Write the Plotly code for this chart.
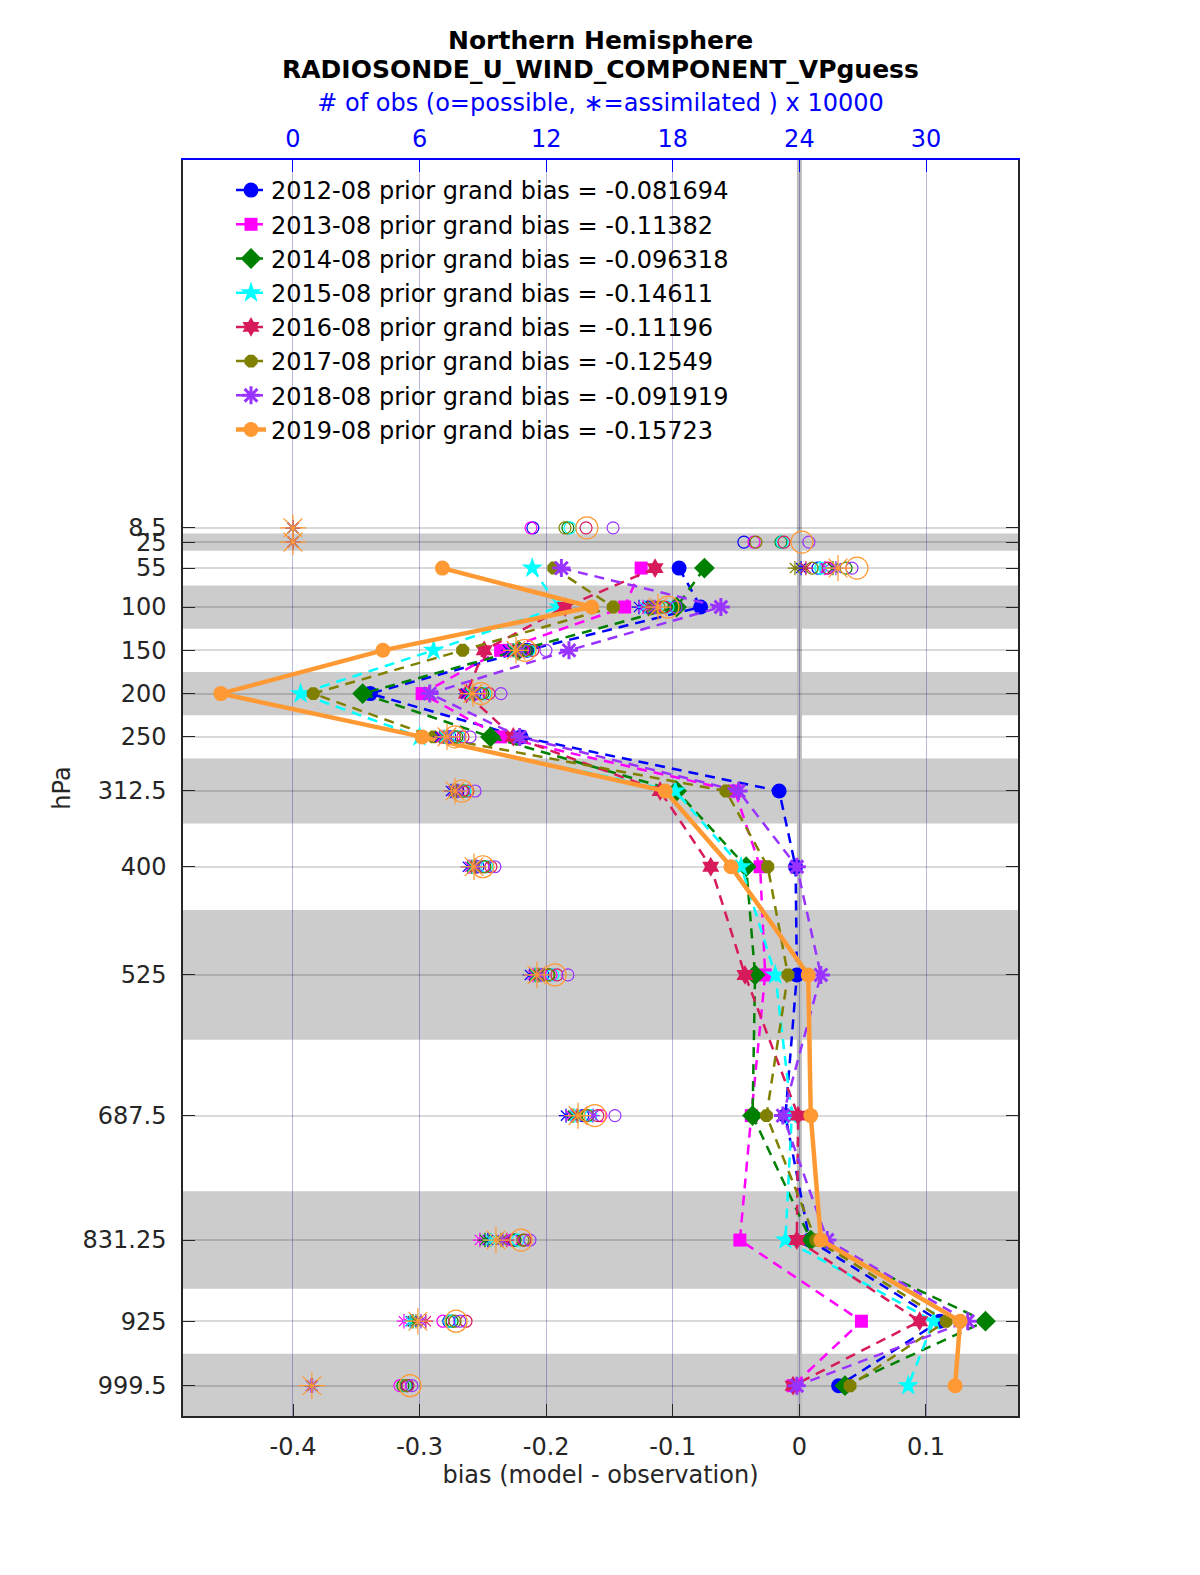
import plotly.graph_objects as go

# ---------------- data ----------------
levels = [8.5, 25, 55, 100, 150, 200, 250, 312.5, 400, 525, 687.5, 831.25, 925, 999.5]
level_labels = ['8.5', '25', '55', '100', '150', '200', '250', '312.5', '400', '525',
                '687.5', '831.25', '925', '999.5']
layer_edges = [2, 15, 35, 75, 125, 175, 225, 275, 350, 450, 600, 775, 887.5, 962.5, 1036.5]

bias_ticks = [-0.4, -0.3, -0.2, -0.1, 0, 0.1]
bias_tick_labels = ['-0.4', '-0.3', '-0.2', '-0.1', '0', '0.1']
count_ticks = [0, 6, 12, 18, 24, 30]
count_tick_labels = ['0', '6', '12', '18', '24', '30']

months = ['2012-08', '2013-08', '2014-08', '2015-08', '2016-08', '2017-08', '2018-08', '2019-08']
grand_bias = ['-0.081694', '-0.11382', '-0.096318', '-0.14611', '-0.11196', '-0.12549',
              '-0.091919', '-0.15723']

# bias (model - observation) per level
bias_2012 = [None, None, -0.095, -0.078, -0.215, -0.339, -0.220, -0.016, -0.003, -0.002, -0.011, 0.008, 0.111, 0.031]
bias_2013 = [None, None, -0.125, -0.138, -0.236, -0.298, -0.236, -0.051, -0.031, -0.027, -0.038, -0.047, 0.049, -0.005]
bias_2014 = [None, None, -0.075, -0.097, -0.222, -0.345, -0.244, -0.097, -0.042, -0.035, -0.037, 0.009, 0.147, 0.036]
bias_2015 = [None, None, -0.211, -0.190, -0.289, -0.394, -0.300, -0.098, -0.046, -0.019, -0.006, -0.011, 0.106, 0.086]
bias_2016 = [None, None, -0.114, -0.185, -0.249, -0.263, -0.226, -0.110, -0.070, -0.043, -0.001, -0.002, 0.095, -0.005]
bias_2017 = [None, None, -0.194, -0.147, -0.266, -0.384, -0.289, -0.058, -0.025, -0.009, -0.026, 0.013, 0.116, 0.040]
bias_2018 = [None, None, -0.188, -0.062, -0.182, -0.292, -0.221, -0.048, -0.002, 0.017, -0.013, 0.022, 0.133, -0.002]
bias_2019 = [None, None, -0.282, -0.164, -0.329, -0.457, -0.298, -0.106, -0.054, 0.007, 0.009, 0.017, 0.127, 0.123]

# number of observations possible (x 10000)
poss_2012 = [11.37, 21.37, 24.88, 16.82, 10.66, 8.63, 7.44, 7.82, 8.77, 11.85, 13.74, 10.47, 7.39, 5.40]
poss_2013 = [11.28, 21.85, 25.25, 17.16, 10.90, 8.82, 7.63, 8.01, 9.00, 12.23, 14.60, 10.38, 7.11, 5.07]
poss_2014 = [13.03, 23.13, 26.21, 17.54, 11.09, 9.00, 7.77, 8.10, 9.10, 12.13, 13.98, 10.52, 7.54, 5.21]
poss_2015 = [13.13, 23.18, 25.02, 17.77, 11.18, 9.10, 7.87, 8.15, 9.19, 12.32, 14.12, 10.66, 7.44, 5.31]
poss_2016 = [13.89, 23.27, 25.36, 17.63, 11.37, 9.29, 8.06, 8.29, 9.38, 12.51, 14.45, 10.99, 8.20, 5.45]
poss_2017 = [12.89, 21.94, 24.60, 17.35, 11.00, 8.91, 7.68, 8.06, 9.05, 12.09, 13.93, 10.90, 7.68, 5.36]
poss_2018 = [15.17, 24.45, 26.49, 18.15, 11.99, 9.86, 8.39, 8.63, 9.57, 13.03, 15.26, 11.23, 7.91, 5.64]
poss_2019 = [13.93, 24.12, 26.73, 17.77, 11.00, 8.91, 7.68, 8.01, 9.00, 12.42, 14.31, 10.81, 7.73, 5.55]

# number of observations assimilated (x 10000)
assim_2012 = [0, 0, 24.08, 16.40, 10.19, 8.20, 6.97, 7.49, 8.29, 11.23, 12.94, 9.24, 5.59, 0.90]
assim_2013 = [0, 0, 25.21, 16.59, 10.33, 8.29, 7.06, 7.58, 8.39, 11.37, 13.18, 8.86, 5.26, 0.85]
assim_2014 = [0, 0, 25.59, 16.97, 10.43, 8.39, 7.16, 7.63, 8.48, 11.47, 13.27, 9.10, 5.69, 0.90]
assim_2015 = [0, 0, 24.98, 16.68, 10.52, 8.44, 7.20, 7.68, 8.53, 11.52, 13.36, 9.38, 5.55, 0.88]
assim_2016 = [0, 0, 24.31, 16.82, 10.62, 8.53, 7.30, 7.73, 8.63, 11.61, 13.46, 10.14, 6.30, 0.92]
assim_2017 = [0, 0, 23.79, 17.06, 10.71, 8.58, 7.35, 7.77, 8.67, 11.66, 13.51, 9.86, 5.83, 0.90]
assim_2018 = [0, 0, 25.73, 17.16, 10.81, 8.67, 7.39, 7.82, 8.72, 11.75, 14.22, 9.95, 6.07, 0.93]
assim_2019 = [0, 0, 25.83, 17.30, 10.57, 8.53, 7.30, 7.68, 8.58, 11.56, 13.51, 9.62, 5.92, 0.90]

# ---------------- styling ----------------
bias_all = [bias_2012, bias_2013, bias_2014, bias_2015, bias_2016, bias_2017, bias_2018, bias_2019]
poss_all = [poss_2012, poss_2013, poss_2014, poss_2015, poss_2016, poss_2017, poss_2018, poss_2019]
assim_all = [assim_2012, assim_2013, assim_2014, assim_2015, assim_2016, assim_2017, assim_2018, assim_2019]

colors = ['#0000ff', '#ff00ff', '#008000', '#00ffff', '#d71a5b', '#808000', '#9933ff', '#ff9933']
symbols = ['circle', 'square', 'diamond', 'star', 'hexagram', 'octagon', 'asterisk-open', 'circle']
msizes = [15, 13, 16, 16, 15, 14, 15, 15]

FONT = 'DejaVu Sans'
TXT = '#262626'

W, H = 1200, 1575
ML, MR, MT, MB = 175, 190, 152, 167
PH = H - MT - MB

fig = go.Figure()

for i in range(8):
    last = (i == 7)
    fig.add_trace(go.Scatter(
        x=bias_all[i], y=levels, xaxis='x', yaxis='y',
        mode='lines+markers',
        name=f'{months[i]} prior grand bias = {grand_bias[i]}',
        line=dict(color=colors[i], width=4.5 if last else 2.5, dash='solid' if last else '10px,7px'),
        marker=dict(symbol=symbols[i], size=msizes[i], color=colors[i],
                    line=dict(color=colors[i], width=3 if symbols[i] == 'asterisk-open' else 0)),
        connectgaps=False,
    ))

for i in range(8):
    last = (i == 7)
    fig.add_trace(go.Scatter(
        x=poss_all[i], y=levels, xaxis='x2', yaxis='y', mode='markers', showlegend=False,
        marker=dict(symbol='circle-open', size=22 if last else 12, color=colors[i],
                    line=dict(color=colors[i], width=1.2)),
    ))
    fig.add_trace(go.Scatter(
        x=assim_all[i], y=levels, xaxis='x2', yaxis='y', mode='markers', showlegend=False,
        marker=dict(symbol='asterisk-open', size=22 if last else 12, color=colors[i],
                    line=dict(color=colors[i], width=1.2)),
    ))

shapes = []
for k in range(1, len(layer_edges) - 1, 2):
    shapes.append(dict(type='rect', xref='paper', x0=0, x1=1, yref='y',
                       y0=layer_edges[k], y1=layer_edges[k + 1],
                       fillcolor='#cccccc', line=dict(width=0), layer='below'))
shapes.append(dict(type='line', xref='x', x0=0, x1=0, yref='paper', y0=0, y1=1,
                   line=dict(color='#bdbdbd', width=5), layer='below'))

fig.update_layout(
    width=W, height=H,
    margin=dict(l=ML, r=MR, t=MT, b=MB, autoexpand=False),
    paper_bgcolor='white', plot_bgcolor='white',
    font=dict(family=FONT, size=24, color=TXT),
    shapes=shapes,
    showlegend=True,
    legend=dict(x=0.0575, y=1 - 8 / PH, xanchor='left', yanchor='top',
                bgcolor='rgba(0,0,0,0)', borderwidth=0,
                font=dict(family=FONT, size=24, color='#000000'),
                tracegroupgap=0, itemwidth=30),
    xaxis=dict(range=[-0.4869, 0.1727], tickvals=bias_ticks, ticktext=bias_tick_labels,
               ticks='inside', ticklen=12, tickcolor=TXT, tickwidth=1,
               showline=True, linecolor=TXT, linewidth=1.5, mirror=False,
               showgrid=False, zeroline=False,
               tickfont=dict(family=FONT, size=24, color=TXT),
               ticklabelstandoff=8,
               title=dict(text='bias (model - observation)', standoff=6,
                          font=dict(family=FONT, size=24, color=TXT))),
    xaxis2=dict(range=[-5.21, 34.36], overlaying='x', side='top', anchor='y',
                tickvals=count_ticks, ticktext=count_tick_labels,
                ticks='inside', ticklen=12, tickcolor='#0000ff', tickwidth=1,
                showline=True, linecolor='#0000ff', linewidth=1.5,
                showgrid=True, gridcolor='rgba(20,20,150,0.30)', gridwidth=1,
                zeroline=False,
                tickfont=dict(family=FONT, size=24, color='#0000ff'),
                ticklabelstandoff=2,
                title=dict(text='# of obs (o=possible, \u2217=assimilated ) x 10000', standoff=6,
                           font=dict(family=FONT, size=24, color='#0000ff'))),
    yaxis=dict(range=[1034.5, -416.4], tickvals=levels, ticktext=level_labels,
               ticks='inside', ticklen=12, tickcolor=TXT, tickwidth=1,
               showline=True, linecolor=TXT, linewidth=1.5, mirror='ticks',
               showgrid=True, gridcolor='rgba(0,0,0,0.15)', gridwidth=1.5,
               zeroline=False,
               tickfont=dict(family=FONT, size=24, color=TXT),
               ticklabelstandoff=10,
               title=dict(text='hPa', standoff=5,
                          font=dict(family=FONT, size=24, color=TXT))),
    annotations=[
        dict(text='<b>Northern Hemisphere</b>', xref='paper', yref='paper',
             x=0.5, y=1 + (MT - 32) / PH, xanchor='center', yanchor='middle',
             showarrow=False, font=dict(family=FONT, size=25, color='#000000')),
        dict(text='<b>RADIOSONDE_U_WIND_COMPONENT_VPguess</b>', xref='paper', yref='paper',
             x=0.5, y=1 + (MT - 61) / PH, xanchor='center', yanchor='middle',
             showarrow=False, font=dict(family=FONT, size=25, color='#000000')),
    ],
)

fig.write_html('out.html')
